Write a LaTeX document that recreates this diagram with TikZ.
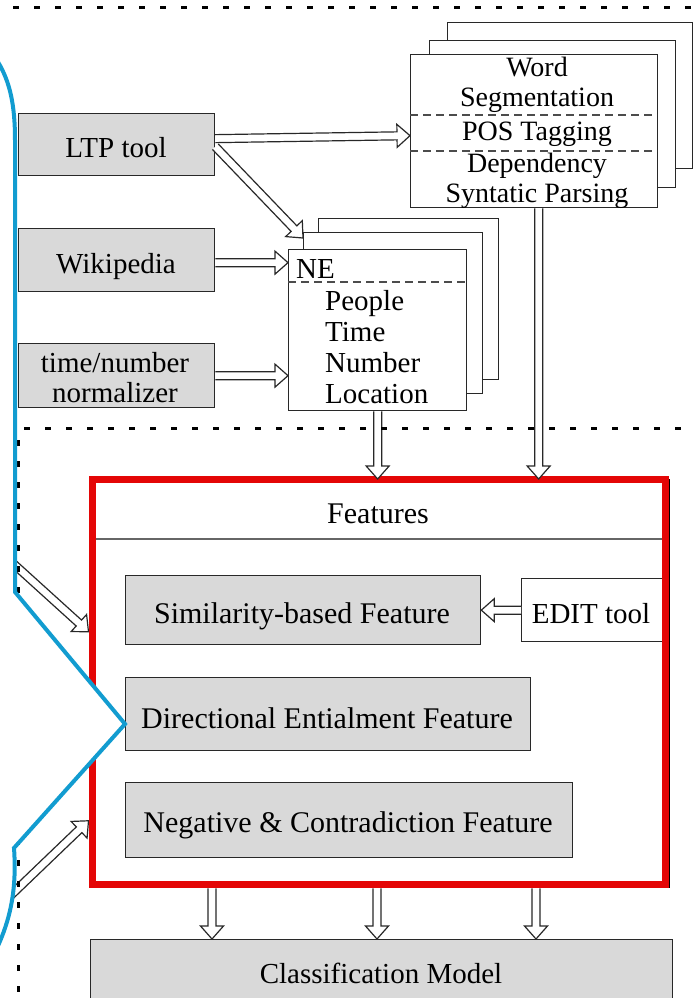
\documentclass[tikz,border=0pt]{standalone}
\usepackage{fontspec}
\setmainfont{Liberation Serif}
\usetikzlibrary{calc}

\definecolor{boxgray}{RGB}{217,217,217}
\definecolor{framered}{RGB}{228,6,6}
\definecolor{calloutblue}{RGB}{18,156,208}
\definecolor{edgeink}{RGB}{40,40,40}

\pgfdeclarelayer{under}
\pgfsetlayers{under,main}

\tikzset{
  box/.style={draw=edgeink, line width=1.3pt, inner sep=0pt, anchor=north west},
  graybox/.style={box, fill=boxgray},
  whitebox/.style={box, fill=white},
  wh/.style 2 args={minimum width=#1pt, minimum height=#2pt},
  lbl/.style={inner sep=0pt, anchor=base, font=\fontsize{29}{32}\selectfont},
  lblsmall/.style={lbl, font=\fontsize{28}{30}\selectfont},
  lblbig/.style={lbl, font=\fontsize{30}{32}\selectfont},
  divider/.style={draw=black!70, line width=1.2pt, dash pattern=on 8pt off 5pt},
  arrowline/.style={draw=edgeink, line width=1.2pt, line join=miter},
  dotline/.style={draw=black, line width=3pt, dash pattern=on 6pt off 15pt},
  calloutline/.style={draw=calloutblue, line width=4pt, line join=miter}
}

% hollow double-lined arrow from #1 to #2 (tip exactly at #2)
\newcommand\hollowarrow[2]{%
  \path[fill=white] let \p1=(#1), \p2=(#2),
      \n1={atan2(\y2-\y1,\x2-\x1)}, \n2={\n1+90}, \n3={\n1-90} in
    ($(\p1)+(\n2:4pt)$) -- ($(\p2)!13pt!(\p1)+(\n2:4pt)$)
    -- ($(\p2)!13pt!(\p1)+(\n2:11.5pt)$) -- (\p2)
    -- ($(\p2)!13pt!(\p1)+(\n3:11.5pt)$) -- ($(\p2)!13pt!(\p1)+(\n3:4pt)$)
    -- ($(\p1)+(\n3:4pt)$) -- cycle;
  \draw[arrowline] let \p1=(#1), \p2=(#2),
      \n1={atan2(\y2-\y1,\x2-\x1)}, \n2={\n1+90}, \n3={\n1-90} in
    ($(\p1)+(\n2:4pt)$) -- ($(\p2)!13pt!(\p1)+(\n2:4pt)$)
    -- ($(\p2)!13pt!(\p1)+(\n2:11.5pt)$) -- (\p2)
    -- ($(\p2)!13pt!(\p1)+(\n3:11.5pt)$) -- ($(\p2)!13pt!(\p1)+(\n3:4pt)$)
    -- ($(\p1)+(\n3:4pt)$);
}

\begin{document}
\begin{tikzpicture}[x=1pt, y=-1pt]
\useasboundingbox (0,0) rectangle (693,998);
\clip (0,0) rectangle (693,998);

% ---- input resources ----
\node[graybox, wh={196}{62}] (ltp)  at (18,113) {};
\node[graybox, wh={196}{63}] (wiki) at (18,228) {};
\node[graybox, wh={196}{64}] (tnn)  at (18,343) {};
\node[lbl] (ltp-t)  at (116,157) {LTP tool};
\node[lbl] (wiki-t) at (116,273) {Wikipedia};
\node[lbl] (tnn-t1) at (115,372) {time/number};
\node[lbl] (tnn-t2) at (115,402) {normalizer};

% ---- linguistic analysis stack ----
\node[whitebox, wh={245}{146}] (wsback) at (447,22) {};
\node[whitebox, wh={246}{147}] (wsmid)  at (429,40) {};
\node[whitebox, wh={247}{153}] (ws)     at (410,54) {};
\draw[divider] (410,115) -- (657,115);
\draw[divider] (410,151) -- (657,151);
\node[lblsmall] (ws-t1) at (537,77)  {Word};
\node[lblsmall] (ws-t2) at (537,106) {Segmentation};
\node[lblsmall] (ws-t3) at (537,140) {POS Tagging};
\node[lblsmall] (ws-t4) at (537,172) {Dependency};
\node[lblsmall] (ws-t5) at (537,202) {Syntatic Parsing};

% ---- named entity stack ----
\node[whitebox, wh={180}{161}] (neback) at (318,218) {};
\node[whitebox, wh={179}{161}] (nemid)  at (303,232) {};
\node[whitebox, wh={178}{161}] (ne)     at (288,249) {};
\draw[divider] (288,282) -- (466,282);
\node[lbl, anchor=base west] (ne-t0) at (296,278) {NE};
\node[lbl, anchor=base west] (ne-t1) at (325,310) {People};
\node[lbl, anchor=base west] (ne-t2) at (325,341) {Time};
\node[lbl, anchor=base west] (ne-t3) at (325,372) {Number};
\node[lbl, anchor=base west] (ne-t4) at (325,403) {Location};

% ---- features block ----
\node[box, draw=black, line width=1.4pt, wh={580}{408}] (featshadow) at (89,479) {};
\draw[draw=black!60, line width=1.2pt] (93,539) -- (668,539);
\node[lblbig] (feat-t) at (378,523) {Features};

\node[graybox, wh={355}{69}] (sim) at (125,575) {};
\node[lblbig] (sim-t) at (302,623) {Similarity-based Feature};
\node[whitebox, wh={141}{63}] (edit) at (521,578) {};
\node[lbl] (edit-t) at (591,623) {EDIT tool};
\node[graybox, wh={405}{73}] (dir) at (125,677) {};
\node[lblbig] (dir-t) at (327,728) {Directional Entialment Feature};
\node[graybox, wh={447}{75}] (neg) at (125,782) {};
\node[lblbig] (neg-t) at (348,832) {Negative \& Contradiction Feature};

\node[box, draw=framered, line width=7pt, wh={573}{405.5}] (feat) at (88.5,475.5) {};

% ---- classifier ----
\node[graybox, wh={582}{90}] (cls) at (90,939) {};
\node[lbl] (cls-t) at (381,983) {Classification Model};

% ---- arrows entering the features block from the left ----
\begin{pgfonlayer}{under}
  \coordinate (srcA) at (-15,538);
  \coordinate (srcB) at (-15,920);
  \hollowarrow{srcA}{[yshift=50pt]feat.west}
  \hollowarrow{srcB}{[yshift=-139pt]feat.west}
\end{pgfonlayer}

% ---- connectors ----
\hollowarrow{[yshift=6pt]ltp.east}{[yshift=-4.5pt]ws.west}
\hollowarrow{[yshift=-2pt]ltp.east}{[yshift=-6pt]nemid.north west}
\coordinate (wikiOut) at ([yshift=-2.5pt]wiki.east);
\hollowarrow{wikiOut}{ne.west |- wikiOut}
\hollowarrow{tnn.east}{ne.west |- tnn.east}
\hollowarrow{ne.south}{ne.south |- featshadow.north}
\coordinate (wsOut) at ([xshift=4.5pt]ws.south);
\hollowarrow{wsOut}{wsOut |- featshadow.north}
\hollowarrow{edit.west}{sim.east |- edit.west}

\coordinate (outA) at ($(featshadow.south west)+(123,0)$);
\coordinate (outB) at ($(featshadow.south west)+(288,0)$);
\coordinate (outC) at ($(featshadow.south west)+(447,0)$);
\hollowarrow{outA}{outA |- cls.north}
\hollowarrow{outB}{outB |- cls.north}
\hollowarrow{outC}{outC |- cls.north}

% ---- dotted region borders ----
\draw[dotline, dash phase=-13pt] (0,8) -- (693,8);
\draw[dotline] (24,428) -- (693,428);
\draw[dotline] (18,440) -- (18,998);

% ---- callout bracket ----
\fill[white] (-40,40) -- (-2,62) .. controls (10,82) and (15,105) .. (15,140)
  -- (15,592) -- (125,724) -- (14,848) .. controls (17,890) and (10,920) .. (-3,948)
  -- (-40,970) -- cycle;
\draw[calloutline] (-2,62) .. controls (10,82) and (15,105) .. (15,140)
  -- (15,592) -- (125,724) -- (14,848) .. controls (17,890) and (10,920) .. (-3,948);
\end{tikzpicture}
\end{document}
